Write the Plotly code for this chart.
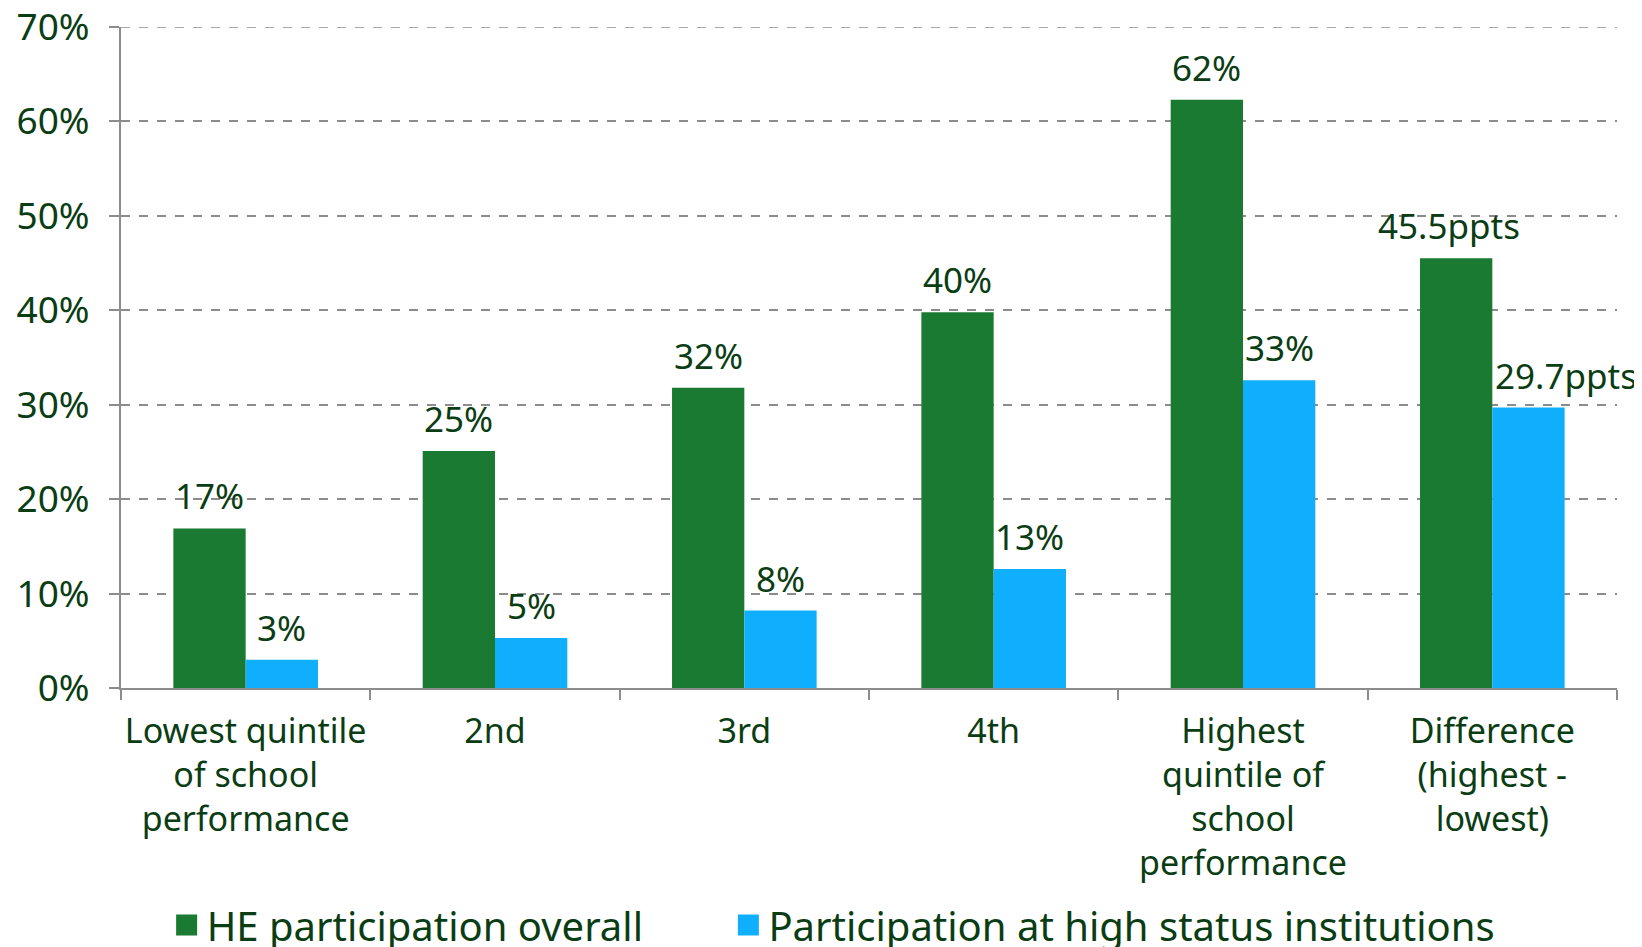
import plotly.graph_objects as go

categories = ["Lowest quintile<br>of school<br>performance", "2nd", "3rd", "4th",
              "Highest<br>quintile of<br>school<br>performance",
              "Difference<br>(highest -<br>lowest)"]
he_overall = [16.9, 25.1, 31.8, 39.8, 62.3, 45.5]
he_overall_labels = ["17%", "25%", "32%", "40%", "62%", "45.5ppts"]
high_status = [3.0, 5.3, 8.2, 12.6, 32.6, 29.7]
high_status_labels = ["3%", "5%", "8%", "13%", "33%", "29.7ppts"]
series_names = ["HE participation overall", "Participation at high status institutions"]
y_ticks = [0, 10, 20, 30, 40, 50, 60, 70]
y_tick_labels = ["0%", "10%", "20%", "30%", "40%", "50%", "60%", "70%"]

TXT = "#0b3d14"
FONT = "Noto Sans"
LBL = 35
GRID = "#8c8c8c"
GREEN = "#1b7a31"
BLUE = "#10affe"

fig = go.Figure()
fig.add_trace(go.Bar(x=categories, y=he_overall, name=series_names[0],
                     marker=dict(color=GREEN, line=dict(width=0)), showlegend=False))
fig.add_trace(go.Bar(x=categories, y=high_status, name=series_names[1],
                     marker=dict(color=BLUE, line=dict(width=0)), showlegend=False))
# legend keys (square swatches)
for nm, col, lg in [(series_names[0], GREEN, "legend"), (series_names[1], BLUE, "legend2")]:
    fig.add_trace(go.Scatter(x=[None], y=[None], mode="markers", name=nm, legend=lg,
                             marker=dict(symbol="square", size=16, color=col,
                                         line=dict(color=col, width=5)),
                             hoverinfo="skip"))

# value labels above bars (bar centre offset +/- half a bar width within each group)
half_bar = 36.2
for i, cat in enumerate(categories):
    dx_g = -half_bar
    dx_b = half_bar
    if i == len(categories) - 1:
        dx_g = -43
        dx_b = 74
    fig.add_annotation(x=cat, y=he_overall[i], text=he_overall_labels[i], showarrow=False,
                       xanchor="center", yanchor="bottom", xshift=dx_g, yshift=7,
                       font=dict(size=LBL, color=TXT, family=FONT))
    fig.add_annotation(x=cat, y=high_status[i], text=high_status_labels[i], showarrow=False,
                       xanchor="center", yanchor="bottom", xshift=dx_b, yshift=7,
                       font=dict(size=LBL, color=TXT, family=FONT))

leg_common = dict(orientation="h", yanchor="middle", y=-0.3585, xanchor="left",
                  font=dict(size=40, color=TXT, family=FONT), itemsizing="trace",
                  bgcolor="rgba(0,0,0,0)")
fig.update_layout(
    width=1634, height=939,
    margin=dict(l=113, r=25, t=19, b=259, autoexpand=False),
    plot_bgcolor="white", paper_bgcolor="white",
    barmode="group", bargap=0.42, bargroupgap=0,
    font=dict(family=FONT, color=TXT, size=34),
    showlegend=True,
    legend=dict(x=0.0305, **leg_common),
    legend2=dict(x=0.406, **leg_common),
)
fig.update_xaxes(range=[-0.5, len(categories) - 0.5], autorange=False,
                 showline=True, linecolor=GRID, linewidth=2,
                 ticks="outside", tickson="boundaries", ticklen=10, tickcolor=GRID, tickwidth=2,
                 ticklabelstandoff=12, automargin=False, tickangle=0,
                 tickfont=dict(size=34, color=TXT, family=FONT))
fig.update_yaxes(range=[0, 70], autorange=False, tickvals=y_ticks, ticktext=y_tick_labels,
                 showline=True, linecolor=GRID, linewidth=2,
                 ticks="outside", ticklen=10, tickcolor=GRID, tickwidth=2,
                 showgrid=True, gridcolor=GRID, griddash="dash", gridwidth=1.5,
                 zeroline=False, ticklabelstandoff=12, automargin=False,
                 ticklabeloverflow="allow",
                 tickfont=dict(size=37, color=TXT, family=FONT))
# top gridline at 70%
fig.add_hline(y=70, line=dict(color=GRID, dash="dash", width=1.5))

fig.write_html("out.html")
